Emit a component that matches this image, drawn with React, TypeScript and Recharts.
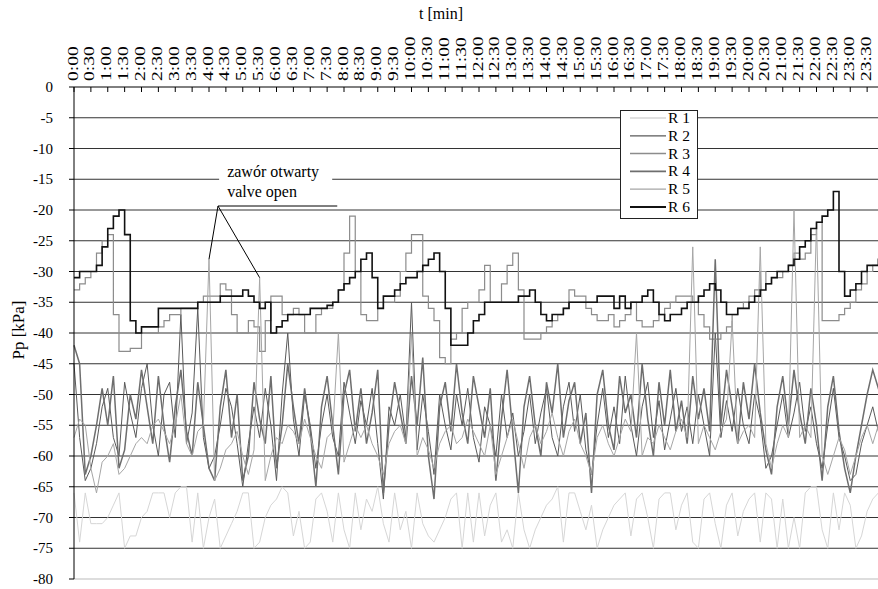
import { LineChart, Line, XAxis, YAxis, CartesianGrid, ReferenceLine, ReferenceArea } from 'recharts';

const FONT = "'Liberation Serif', 'Times New Roman', serif";

// one sample every 10 minutes, 0:00 .. 24:00
const minutes = Array.from({ length: 145 }, (_, i) => i * 10);

const timeLabels = [
  '0:00', '0:30', '1:00', '1:30', '2:00', '2:30', '3:00', '3:30', '4:00', '4:30', '5:00', '5:30',
  '6:00', '6:30', '7:00', '7:30', '8:00', '8:30', '9:00', '9:30', '10:00', '10:30', '11:00', '11:30',
  '12:00', '12:30', '13:00', '13:30', '14:00', '14:30', '15:00', '15:30', '16:00', '16:30', '17:00', '17:30',
  '18:00', '18:30', '19:00', '19:30', '20:00', '20:30', '21:00', '21:30', '22:00', '22:30', '23:00', '23:30',
];
const timeTicks = timeLabels.map((_, i) => i * 30);
const pressureTicks = [0, -5, -10, -15, -20, -25, -30, -35, -40, -45, -50, -55, -60, -65, -70, -75, -80];
const gridValues = pressureTicks.filter((v) => v !== 0 && v !== -80);

const r1 = [
  -66, -74, -66, -71, -71, -71, -70, -68, -66, -75,
  -73, -73, -70, -69, -66, -66, -66, -70, -66, -65,
  -65, -74, -66, -75, -70, -67, -75, -73, -71, -69,
  -66, -66, -75, -74, -70, -68, -67, -65, -66, -73,
  -69, -75, -74, -67, -66, -69, -74, -66, -72, -75,
  -66, -72, -67, -69, -65, -71, -74, -66, -72, -69,
  -75, -66, -71, -73, -74, -72, -70, -67, -66, -75,
  -66, -74, -66, -73, -68, -66, -74, -72, -75, -66,
  -72, -75, -72, -70, -68, -67, -65, -74, -66, -66,
  -69, -72, -68, -75, -72, -70, -68, -67, -66, -73,
  -67, -66, -70, -75, -67, -66, -66, -72, -68, -66,
  -74, -75, -67, -66, -71, -75, -68, -66, -73, -69,
  -67, -66, -74, -66, -67, -75, -67, -75, -70, -75,
  -66, -65, -65, -72, -75, -66, -72, -66, -68, -75,
  -73, -69, -67, -66, -65,
];

const r2 = [
  -45, -57, -64, -62, -58, -52, -49, -57, -60, -48,
  -53, -57, -49, -45, -55, -60, -50, -48, -57, -37,
  -58, -53, -36, -57, -62, -60, -55, -49, -52, -58,
  -65, -58, -52, -57, -49, -55, -64, -50, -40, -54,
  -60, -50, -55, -62, -55, -50, -57, -60, -48, -53,
  -58, -51, -55, -49, -58, -67, -52, -55, -50, -57,
  -35, -59, -50, -56, -63, -50, -55, -59, -50, -55,
  -49, -57, -61, -52, -55, -60, -50, -57, -53, -60,
  -56, -50, -58, -53, -49, -57, -60, -52, -48, -56,
  -50, -59, -63, -55, -49, -57, -52, -58, -47, -55,
  -60, -52, -48, -57, -51, -59, -54, -49, -56, -52,
  -58, -50, -55, -60, -40, -57, -51, -56, -49, -55,
  -58, -50, -54, -62, -60, -55, -50, -57, -53, -48,
  -56, -52, -58, -62, -55, -49, -57, -60, -64, -63,
  -58, -55, -52, -56, -54,
];

const r3 = [
  -33, -32, -31, -30, -27, -25, -24, -37, -43, -43,
  -42.5, -42.5, -40, -40, -40, -39, -38, -37, -37, -36,
  -36, -36, -35, -34, -34, -34, -32, -33, -37, -40,
  -40, -38, -39, -43, -38, -34, -34, -37, -37, -36,
  -37, -40, -40, -37, -36, -36, -35, -33, -27, -21,
  -30, -37, -38, -38, -36, -35, -35, -34, -30, -27,
  -24, -24, -34, -36, -38, -44, -45, -41, -40, -36,
  -35, -35, -33, -29, -35, -35, -32, -29, -27, -33,
  -41, -41, -41, -40, -39, -38, -37, -36, -33, -34,
  -34, -36, -37, -38, -38, -37, -39, -38, -37, -35,
  -38, -39, -39, -38, -37, -36, -35, -34, -34, -34,
  -35, -37, -39, -41, -41, -40, -39, -37, -36, -35,
  -34, -33, -30, -32, -31, -31, -30, -29, -27, -28,
  -27, -24, -22, -38, -38, -38, -37, -36, -35, -33,
  -32, -30, -29, -29, -29,
];

const r4 = [
  -42, -45, -63, -60, -55, -49, -55, -47, -62, -59,
  -50, -54, -46, -52, -58, -47, -55, -61, -52, -46,
  -56, -60, -48, -55, -62, -64, -52, -46, -57, -50,
  -64, -60, -48, -54, -58, -47, -62, -55, -45, -52,
  -58, -49, -56, -65, -52, -47, -55, -63, -50, -46,
  -56, -49, -58, -53, -46, -66, -55, -48, -53, -58,
  -47, -55, -44, -60, -67, -52, -48, -56, -45, -53,
  -58, -47, -52, -57, -49, -64, -54, -46, -56, -66,
  -52, -47, -55, -60, -48, -53, -45, -57, -51, -48,
  -58, -53, -66, -50, -46, -55, -59, -47, -53, -50,
  -57, -45, -54, -60, -48, -55, -46, -56, -51, -58,
  -47, -54, -49, -56, -28, -55, -46, -52, -58, -48,
  -54, -45, -53, -59, -63, -52, -47, -55, -46, -53,
  -58, -49, -55, -64, -52, -47, -56, -62, -66, -60,
  -55, -50, -46, -49, -45,
];

const r5 = [
  -57, -54, -55, -62, -66, -61, -60, -58, -63, -62,
  -60, -58, -57, -58, -55, -54, -56, -58, -55, -50,
  -58, -60, -56, -55, -28, -64, -62, -59, -58, -56,
  -60, -63, -59, -31, -64, -60, -57, -58, -55, -56,
  -58, -54, -57, -60, -62, -57, -56, -40, -61, -58,
  -55, -57, -55, -58, -60, -63, -58, -56, -55, -58,
  -40, -60, -57, -59, -62, -58, -56, -55, -58, -57,
  -54, -56, -58, -60, -55, -63, -60, -57, -54, -58,
  -62, -57, -55, -58, -56, -53, -57, -60, -56, -54,
  -58, -60, -63, -57, -55, -58, -60, -57, -54, -56,
  -40, -60, -57, -58, -55, -57, -59, -56, -54, -57,
  -26, -58, -55, -57, -59, -56, -54, -38, -58, -56,
  -55, -57, -26, -58, -62, -58, -55, -57, -20, -57,
  -55, -57, -22, -60, -63, -60, -57, -59, -63, -60,
  -57, -55, -58, -55, -54,
];

const r6 = [
  -31, -30, -30, -30, -29, -26, -23, -21, -20, -24,
  -38, -40, -39, -39, -39, -36, -36, -36, -36, -36,
  -36, -36, -35, -35, -35, -35, -34, -34, -34, -34,
  -33, -34, -35, -36, -35, -40, -39, -38, -37, -37,
  -37, -37, -36, -36, -36, -35.5, -35, -33, -32, -31,
  -30, -28, -27, -31, -36, -34, -34, -33, -32, -31,
  -31, -30, -29, -28, -27, -30, -36, -42, -42, -42,
  -40, -38, -37, -35, -35, -35, -35, -35, -35, -34,
  -34, -33, -35, -37, -38, -37, -37, -36, -35, -35,
  -35, -35, -35, -34, -34, -34, -36, -34, -36, -35,
  -35, -34, -33, -35, -37, -38, -37, -37, -36, -35,
  -35, -34, -33, -32, -33, -35, -37, -37, -36, -36,
  -35, -34, -33, -32, -31, -30, -30, -29, -28, -26,
  -25, -23, -22, -21, -20, -17, -30, -34, -33, -32,
  -30, -29, -29, -28, -28,
];

const series = [
  { key: 'r1', name: 'R 1', color: '#d6d6d6', width: 1, curve: 'linear' },
  { key: 'r2', name: 'R 2', color: '#5a5a5a', width: 1, curve: 'linear' },
  { key: 'r3', name: 'R 3', color: '#8c8c8c', width: 1.2, curve: 'stepAfter' },
  { key: 'r4', name: 'R 4', color: '#6e6e6e', width: 1.5, curve: 'linear' },
  { key: 'r5', name: 'R 5', color: '#a6a6a6', width: 1, curve: 'linear' },
  { key: 'r6', name: 'R 6', color: '#111111', width: 1.6, curve: 'stepAfter' },
];

const data = minutes.map((t, i) => ({ t, r1: r1[i], r2: r2[i], r3: r3[i], r4: r4[i], r5: r5[i], r6: r6[i] }));

function TopTick({ x, y, payload }: any) {
  const label = timeLabels[Math.round(payload.value / 30)];
  return (
    <g>
      <line x1={x} y1={y} x2={x} y2={y + 5} stroke="#000" />
      <text
        transform={`translate(${x - 1},${y - 6}) rotate(-90) scale(1.4,1)`}
        textAnchor="start"
        dominantBaseline="central"
        fontSize={14}
        style={{ fontFamily: FONT }}
        fill="#000"
      >
        {label}
      </text>
    </g>
  );
}

function LeftTick({ x, y, payload }: any) {
  return (
    <text x={x} y={y} dy={5} textAnchor="end" fontSize={15} style={{ fontFamily: FONT }} fill="#000">
      {payload.value}
    </text>
  );
}

function ValveNote({ viewBox }: any) {
  const { x, y } = viewBox;
  return (
    <g fontSize={16} fill="#000" style={{ fontFamily: FONT }}>
      <text x={x + 8} y={y + 17}>zawór otwarty</text>
      <text x={x + 8} y={y + 37}>valve open</text>
    </g>
  );
}

function ChartLegend() {
  return (
    <svg width={80} height={112} style={{ position: 'absolute', left: 619, top: 109 }}>
      <rect x={1.5} y={1.5} width={77} height={108} fill="#fff" stroke="#222" />
      {series.map((s, i) => (
        <g key={s.key}>
          <line x1={11} x2={47} y1={9 + i * 17.8} y2={9 + i * 17.8} stroke={s.color} strokeWidth={s.width + 0.3} />
          <text x={49} y={14 + i * 17.8} fontSize={15.5} style={{ fontFamily: FONT }} fill="#000">{s.name}</text>
        </g>
      ))}
    </svg>
  );
}

export default function App() {
  return (
    <div style={{ position: 'absolute', left: 0, top: 0, width: 878, height: 589, overflow: 'hidden', background: '#fff' }}>
      <LineChart width={900} height={589} data={data} margin={{ top: 27, right: 16, left: 20, bottom: 10 }}>
        <CartesianGrid vertical={false} horizontalValues={gridValues} stroke="#333" />
        <ReferenceLine y={-80} stroke="#bbb" />
        <XAxis
          dataKey="t"
          type="number"
          orientation="top"
          domain={[0, 1440]}
          ticks={timeTicks}
          interval={0}
          height={60}
          tickSize={0}
          tickMargin={0}
          axisLine={{ stroke: '#000' }}
          tickLine={false}
          tick={<TopTick />}
          label={() => (
            <text x={441} y={19} textAnchor="middle" fontSize={16} style={{ fontFamily: FONT }} fill="#000">t [min]</text>
          )}
        />
        <YAxis
          domain={[-80, 0]}
          ticks={pressureTicks}
          interval={0}
          width={54}
          tickSize={5}
          tickMargin={16}
          axisLine={{ stroke: '#000' }}
          tickLine={{ stroke: '#000' }}
          tick={<LeftTick />}
          label={() => (
            <text transform="translate(24,330) rotate(-90)" textAnchor="middle" fontSize={17} style={{ fontFamily: FONT }} fill="#000">Pp [kPa]</text>
          )}
        />
        {series.map((s) => (
          <Line
            key={s.key}
            dataKey={s.key}
            name={s.name}
            type={s.curve as any}
            stroke={s.color}
            strokeWidth={s.width}
            dot={false}
            activeDot={false}
            isAnimationActive={false}
          />
        ))}
        <ReferenceArea x1={258} x2={459} y1={-11.9} y2={-18.7} fill="#fff" fillOpacity={1} stroke="none" label={<ValveNote />} />
        <ReferenceLine segment={[{ x: 256, y: -19.35 }, { x: 468, y: -19.35 }]} stroke="#000" />
        <ReferenceLine segment={[{ x: 256, y: -19.35 }, { x: 240, y: -28 }]} stroke="#000" />
        <ReferenceLine segment={[{ x: 256, y: -19.35 }, { x: 330, y: -31 }]} stroke="#000" />
      </LineChart>
      <ChartLegend />
    </div>
  );
}
